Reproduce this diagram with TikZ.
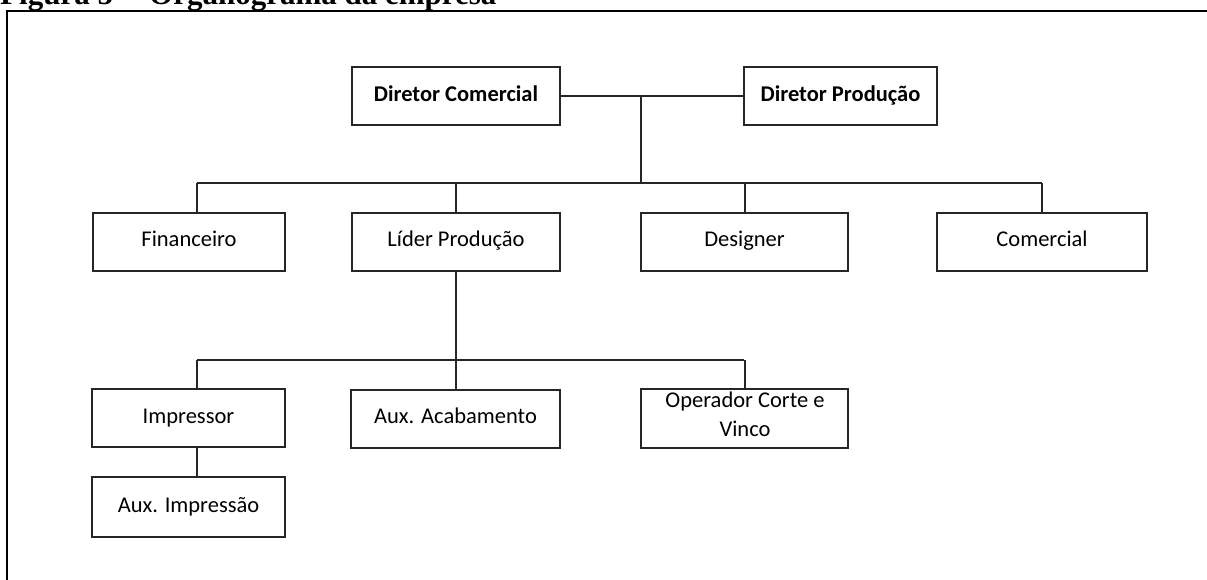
\documentclass[tikz,border=0pt]{standalone}
\usepackage{fontspec}
\setmainfont{Carlito}
\newfontfamily\titlefont{Liberation Serif}
\begin{document}
\begin{tikzpicture}[x=1pt,y=-1pt,
  orgbox/.style={draw=black!85, line width=2pt, rectangle, inner sep=0pt,
    minimum height=58pt, text height=15pt, text depth=5pt,
    font=\fontsize{22.5}{29}\selectfont, align=center},
  topbox/.style={orgbox, font=\fontsize{22.5}{29}\selectfont\bfseries},
  conn/.style={draw=black!85, line width=2pt}]
\useasboundingbox (0,0) rectangle (1207,580);
\fill[white] (0,0) rectangle (1207,580);
% title (cut at the top)
\node[anchor=base west, inner sep=0pt, font=\titlefont\bfseries\fontsize{31}{36}\selectfont] (title) at (0,5) {Figura 5 -- Organograma da empresa};
% frame
\draw[line width=2.4pt] (7,620) -- (7,11) -- (1230,11);
% top row
\node[topbox, minimum width=208pt] (dc) at (456,96.5) {Diretor Comercial};
\node[topbox, minimum width=193pt] (dp) at (840.5,96.5) {Diretor Produção};
% second row
\node[orgbox, minimum width=192pt] (fin) at (189,242) {Financeiro};
\node[orgbox, minimum width=208pt] (lid) at (456,242) {Líder Produção};
\node[orgbox, minimum width=207pt] (des) at (744.5,242) {Designer};
\node[orgbox, minimum width=210pt] (com) at (1042,242) {Comercial};
% third row
\node[orgbox, minimum width=193pt] (imp) at (188.5,418) {Impressor};
\node[orgbox, minimum width=209pt] (aca) at (455.5,418.5) {Aux. Acabamento};
\node[orgbox, minimum width=207pt, minimum height=59pt, text height=0pt, text depth=0pt] (ope) at (744.5,418.5) {};
\node[inner sep=0pt, align=center, font=\fontsize{22.5}{29}\selectfont] (opet) at (745,414) {Operador Corte e\\Vinco};
% fourth row
\node[orgbox, minimum width=193pt, minimum height=60pt] (aimp) at (188.5,507) {Aux. Impressão};
% junctions
\coordinate (j1) at (641,96.5);
\coordinate (j2) at (641,183);
\coordinate (b1) at (197,183);
\coordinate (b4) at (1042,183);
\coordinate (c1) at (197,360);
\coordinate (c3) at (744,360);
% connectors
\draw[conn] (dc.east) -- (dp.west);
\draw[conn] (j1) -- (j2);
\draw[conn] (b1) -- (b4);
\draw[conn] (b1) -- (b1 |- fin.north);
\draw[conn] (lid.north) -- (lid.north |- b1);
\draw[conn] (des.north) -- (des.north |- b1);
\draw[conn] (com.north) -- (com.north |- b1);
\draw[conn] (lid.south) -- (lid.south |- c1);
\draw[conn] (c1) -- (c3);
\draw[conn] (c1) -- (c1 |- imp.north);
\draw[conn] (aca.north) -- (aca.north |- c1);
\draw[conn] (ope.north) -- (ope.north |- c1);
\draw[conn] (imp.south -| c1) -- (aimp.north -| c1);
\end{tikzpicture}
\end{document}
